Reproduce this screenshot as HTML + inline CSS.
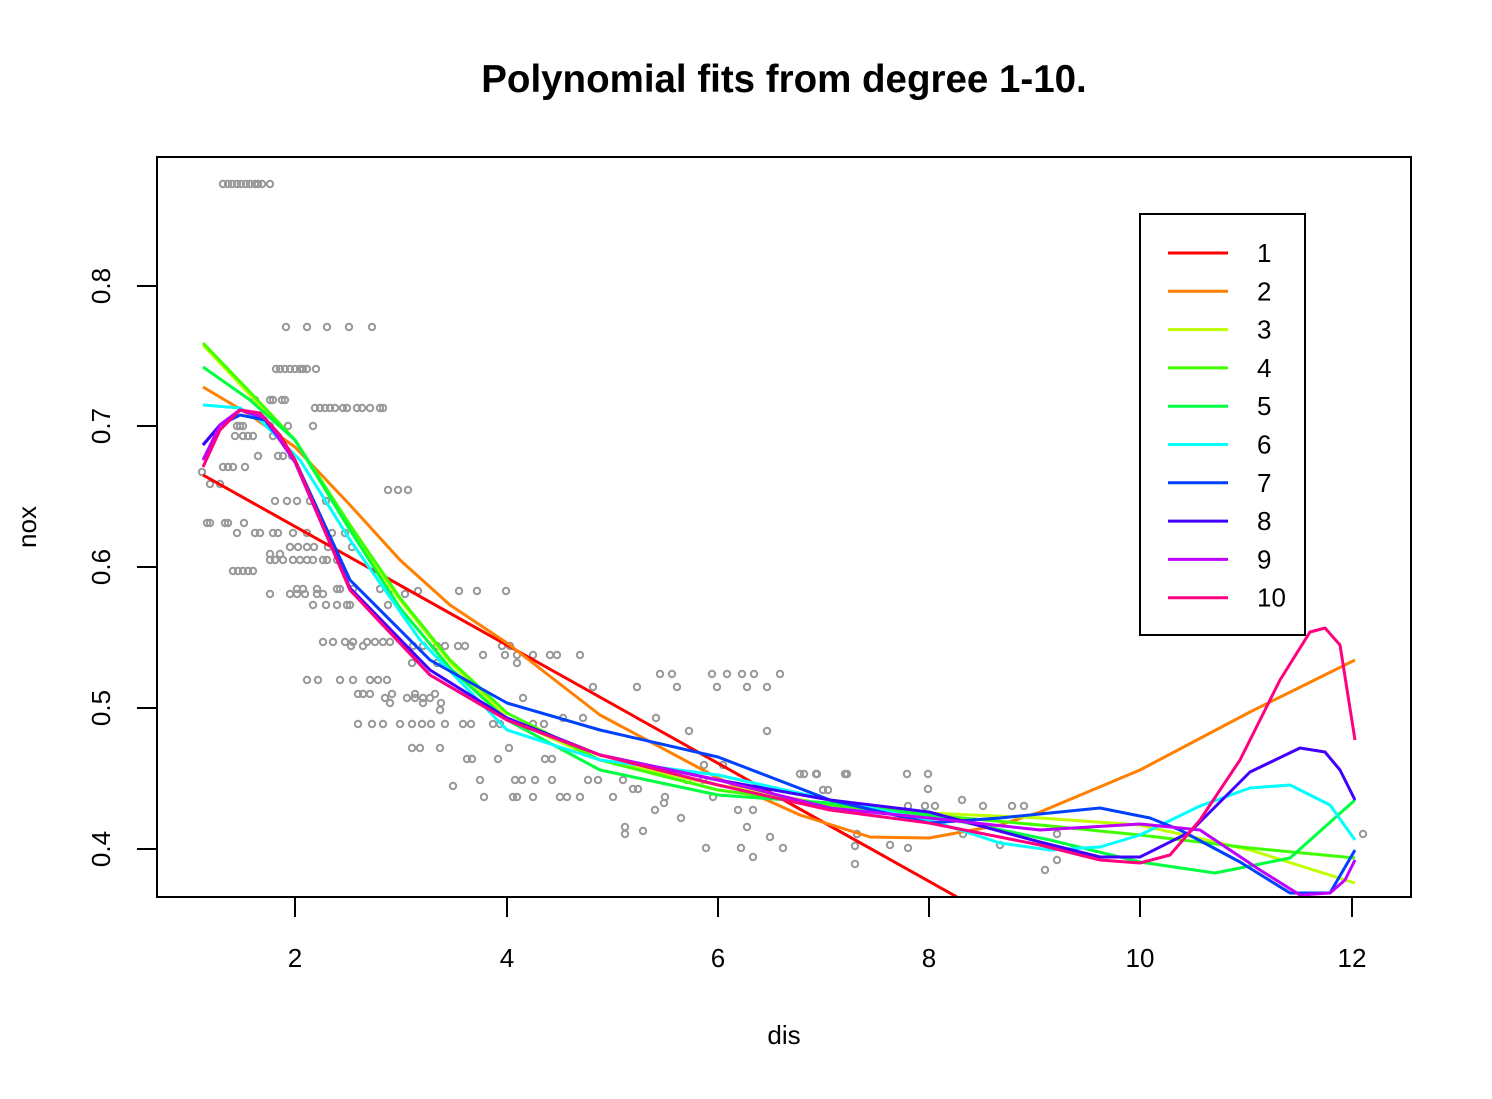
<!DOCTYPE html>
<html><head><meta charset="utf-8"><style>
body{margin:0;background:#fff}
svg text{font-family:"Liberation Sans",Arial,sans-serif}
</style></head><body>
<svg id="s" width="1492" height="1094" viewBox="0 0 1492 1094" xmlns="http://www.w3.org/2000/svg">
<rect width="1492" height="1094" fill="#fff"/>
<text x="784" y="92" font-size="38.5" font-weight="bold" text-anchor="middle">Polynomial fits from degree 1-10.</text>
<g id="pts" fill="none" stroke="#999" stroke-width="2"></g>
<g fill="none" stroke-width="3" stroke-linejoin="round">
<polyline stroke="#ff0000" points="203,475 957,897"/>
<polyline stroke="#ff8000" points="203,387 250,415 295,447 350,505 400,560 450,605 507,643 600,715 718,778 800,815 870,837 929,838 1000,825 1040,812 1140,770 1250,712 1355,660"/>
<polyline stroke="#bfff00" points="203,345 250,395 295,440 350,530 400,600 450,662 507,718 600,760 718,785 830,805 929,813 1040,818 1140,825 1250,850 1355,883"/>
<polyline stroke="#40ff00" points="203,343 250,392 295,440 350,525 400,598 450,660 507,713 600,760 718,790 830,805 929,815 1040,825 1140,835 1250,848 1355,858"/>
<polyline stroke="#00ff40" points="203,367 250,400 295,440 350,530 400,608 450,668 507,720 600,770 718,795 830,803 929,815 1050,840 1140,862 1215,873 1290,858 1355,800"/>
<polyline stroke="#00ffff" points="203,405 240,408 260,420 300,460 350,540 420,640 507,730 600,760 718,775 830,800 929,820 1000,843 1050,850 1100,847 1140,835 1200,806 1250,788 1290,785 1330,805 1355,840"/>
<polyline stroke="#0040ff" points="203,445 220,425 240,415 265,420 295,460 350,580 430,660 507,703 600,730 718,757 830,800 929,823 1000,818 1100,808 1150,818 1180,830 1240,862 1290,893 1330,893 1355,850"/>
<polyline stroke="#4000ff" points="203,445 220,425 240,410 265,418 295,462 350,588 430,670 507,718 600,755 718,780 830,800 929,812 1040,842 1100,857 1140,857 1190,832 1250,772 1300,748 1325,752 1340,770 1355,800"/>
<polyline stroke="#bf00ff" points="203,460 220,425 240,410 265,418 295,462 350,590 430,675 507,720 600,755 718,780 830,808 929,818 1040,830 1140,824 1200,830 1260,870 1300,895 1330,893 1345,880 1355,860"/>
<polyline stroke="#ff0080" points="203,467 220,430 240,410 260,413 280,435 295,460 350,590 430,675 507,720 600,755 718,785 830,810 929,823 1040,845 1100,860 1140,863 1170,855 1200,820 1240,760 1280,680 1310,632 1325,628 1340,645 1355,740"/>
</g>
<rect x="157" y="157" width="1254" height="740" fill="none" stroke="#000" stroke-width="2"/>
<g stroke="#000" stroke-width="2">
<line x1="295" y1="897" x2="295" y2="917"/><line x1="507" y1="897" x2="507" y2="917"/><line x1="718" y1="897" x2="718" y2="917"/><line x1="929" y1="897" x2="929" y2="917"/><line x1="1140" y1="897" x2="1140" y2="917"/><line x1="1352" y1="897" x2="1352" y2="917"/>
<line x1="137" y1="286" x2="157" y2="286"/><line x1="137" y1="426" x2="157" y2="426"/><line x1="137" y1="567" x2="157" y2="567"/><line x1="137" y1="708" x2="157" y2="708"/><line x1="137" y1="849" x2="157" y2="849"/>
</g>
<g font-size="26" text-anchor="middle">
<text x="295" y="967">2</text><text x="507" y="967">4</text><text x="718" y="967">6</text><text x="929" y="967">8</text><text x="1140" y="967">10</text><text x="1352" y="967">12</text>
<text transform="translate(110,286) rotate(-90)">0.8</text><text transform="translate(110,426) rotate(-90)">0.7</text><text transform="translate(110,567) rotate(-90)">0.6</text><text transform="translate(110,708) rotate(-90)">0.5</text><text transform="translate(110,849) rotate(-90)">0.4</text>
<text x="784" y="1044">dis</text>
<text transform="translate(36,527) rotate(-90)">nox</text>
</g>
<rect x="1140" y="214" width="165" height="421" fill="#fff" stroke="#000" stroke-width="2"/>
<g id="leg" font-size="26"></g>
</svg>
<script>
var cols=["#ff0000","#ff8000","#bfff00","#40ff00","#00ff40","#00ffff","#0040ff","#4000ff","#bf00ff","#ff0080"];
var L=document.getElementById("leg"),h="";
for(var i=0;i<10;i++){var y=253+i*38.3;h+='<line x1="1168" y1="'+y+'" x2="1228" y2="'+y+'" stroke="'+cols[i]+'" stroke-width="3"/><text x="1257" y="'+(y+9)+'">'+(i+1)+'</text>';}
L.innerHTML=h;
var R={
184:[223,228,232,237,241,246,250,255,258,262,270],
327:[286,307,327,349,372],
369:[276,280,285,290,295,300,303,307,316],
400:[255,270,273,282,285],
408:[315,320,325,330,335,343,347,357,362,370,380,383],
426:[237,240,243,270,288,313],
436:[235,243,248,253,273],
456:[258,278,283,292],
467:[223,228,233,245],
472:[202],
484:[210,220],
490:[388,398,408],
501:[275,287,297,310,326],
523:[207,210,225,228,244],
533:[237,255,260,273,278,293,307,332,345],
547:[290,298,307,314,328,352],
554:[270,280],
560:[270,275,283,293,300,307,313,323,327,337],
571:[233,238,243,248,253],
589:[297,303,317,337,340,353,380,390],
591:[418,459,477,506],
594:[270,290,297,305,317,323,405],
605:[313,326,337,347,350,388],
642:[323,333,345,353,367,375,383,390],
646:[351,363,413,423,437,445,458,465,502,510],
655:[483,505,517,533,550,557,580],
663:[412,437,517],
674:[660,672,712,727,742,754,780],
680:[307,318,340,353,370,378,387],
687:[593,637,677,717,747,767],
694:[358,363,370,392,415,435],
698:[385,407,430,523,415,423],
703:[390,423,441],
710:[440],
718:[563,583,656],
724:[358,372,383,400,412,422,431,445,463,471,493,500,533,544],
731:[689,767],
748:[412,420,440,509],
759:[467,472,498,545,552],
765:[704,723],
774:[804,816,847,800,817,845,907,928],
780:[480,515,522,535,552,588,598,623,687,703],
786:[453],
789:[633,638,928],
790:[823,828],
797:[484,513,517,533,560,567,580,613,665,713],
803:[664],
806:[827,908,925,935,983,1024,1012],
800:[962],
810:[738,753,655],
818:[681],
827:[625,747],
831:[643],
834:[625,857,963,1057,1363],
837:[770],
845:[890,1000],
846:[855],
848:[706,741,783,908],
857:[753],
860:[1057],
864:[855],
870:[1045]};
var g="";for(var k in R){R[k].forEach(function(x){g+='<circle cx="'+x+'" cy="'+k+'" r="3.2"/>';});}
document.getElementById("pts").innerHTML=g;
</script>
</body></html>
